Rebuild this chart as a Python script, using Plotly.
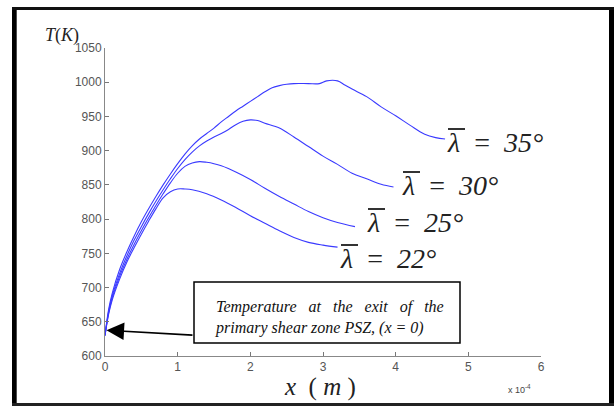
import plotly.graph_objects as go

# ---- data (x in units of 1e-4 m, T in K) ----
x22 = [0, 0.05, 0.1, 0.2, 0.3, 0.4, 0.5, 0.6, 0.7, 0.8, 0.9, 1.0, 1.1, 1.2, 1.4, 1.6, 1.8, 2.0, 2.2, 2.4, 2.6, 2.8, 3.0, 3.2]
t22 = [630, 661, 682, 712, 737, 758, 778, 797, 815, 831, 840, 844, 844, 843, 837, 828, 817, 805, 794, 783, 773, 766, 762, 759]

x25 = [0, 0.05, 0.1, 0.2, 0.3, 0.4, 0.5, 0.6, 0.7, 0.8, 0.9, 1.0, 1.1, 1.2, 1.3, 1.4, 1.5, 1.6, 1.8, 2.0, 2.2, 2.4, 2.6, 2.8, 3.0, 3.2, 3.44]
t25 = [630, 663, 685, 716, 741, 763, 783, 802, 820, 837, 853, 867, 877, 882, 884, 883, 881, 878, 869, 858, 845, 833, 822, 811, 802, 795, 789]

x30 = [0, 0.05, 0.1, 0.2, 0.3, 0.4, 0.5, 0.6, 0.7, 0.8, 0.9, 1.0, 1.1, 1.2, 1.3, 1.4, 1.5, 1.6, 1.7, 1.8, 1.9, 2.0, 2.1, 2.2, 2.4, 2.6, 2.8, 3.0, 3.2, 3.4, 3.6, 3.8, 3.97]
t30 = [630, 665, 688, 720, 746, 769, 789, 808, 826, 843, 859, 874, 887, 898, 907, 914, 920, 925, 931, 938, 943, 945, 944, 940, 933, 920, 906, 892, 880, 867, 859, 851, 847]

x35 = [0, 0.05, 0.1, 0.2, 0.3, 0.4, 0.5, 0.6, 0.7, 0.8, 0.9, 1.0, 1.1, 1.2, 1.3, 1.4, 1.5, 1.6, 1.7, 1.8, 1.9, 2.0, 2.1, 2.2, 2.3, 2.4, 2.5, 2.6, 2.8, 2.95, 3.05, 3.2, 3.3, 3.4, 3.6, 3.8, 4.0, 4.2, 4.4, 4.55, 4.68]
t35 = [630, 668, 692, 726, 752, 775, 796, 815, 833, 850, 866, 881, 895, 907, 917, 925, 933, 942, 950, 958, 965, 972, 979, 986, 992, 995, 997, 998, 998, 998, 1002, 1002, 996, 990, 979, 964, 951, 937, 924, 919, 917]

series = [
    (x22, t22, "22"),
    (x25, t25, "25"),
    (x30, t30, "30"),
    (x35, t35, "35"),
]

# label left edge / vertical centre, in picture pixels
label_px = {"35": (445, 142), "30": (400, 185), "25": (365, 222), "22": (338, 258)}

xticks = [0, 1, 2, 3, 4, 5, 6]
yticks = [600, 650, 700, 750, 800, 850, 900, 950, 1000, 1050]

W, H = 614, 406
L, R, T, B = 105, 73, 48, 50
PW, PH = W - L - R, H - T - B

def px(X):
    return (X - L) / PW

def py(Y):
    return (H - B - Y) / PH

fig = go.Figure()
for xs, ts, name in series:
    fig.add_trace(go.Scatter(x=xs, y=ts, mode="lines", line=dict(color="#3a3aff", width=1.1),
                             line_shape="spline", showlegend=False, hoverinfo="skip"))

serif = "Liberation Serif, Times New Roman, serif"
ann = []
shapes = []
for xs, ts, name in series:
    lx, ly = label_px[name]
    ann.append(dict(x=px(lx), y=py(ly), xref="paper", yref="paper", xanchor="left", yanchor="middle",
                    text="<i>\u03bb</i>  =  <i>%s\u00b0</i>" % name, showarrow=False,
                    font=dict(family=serif, size=28, color="#222")))
    # bar over lambda
    shapes.append(dict(type="line", xref="paper", yref="paper", x0=px(lx + 3), x1=px(lx + 20),
                       y0=py(ly - 13), y1=py(ly - 13), line=dict(color="#333", width=2)))

# annotation box text
ann.append(dict(x=px(213), y=py(317), xref="paper", yref="paper",
                xanchor="left", yanchor="middle", align="left", showarrow=False,
                text="<i>Temperature   at   the   exit   of   the<br>primary shear zone PSZ, (x = 0)</i>",
                font=dict(family=serif, size=16, color="#111")))
# arrow
ann.append(dict(x=0.02, y=1050 - (330 - 48) / 0.684, xref="x", yref="y",
                ax=(194 - 105) / 72.7, ay=1050 - (335 - 48) / 0.684, axref="x", ayref="y",
                text="", showarrow=True, arrowhead=2, arrowsize=2.2, arrowwidth=1.6, arrowcolor="#000"))

# axis titles
ann.append(dict(x=px(62), y=py(35), xref="paper", yref="paper", xanchor="center", yanchor="middle",
                text="<i>T</i>(<i>K</i>)", showarrow=False, font=dict(family=serif, size=18, color="#222")))
ann.append(dict(x=px(320), y=py(387), xref="paper", yref="paper", xanchor="center", yanchor="middle",
                text="<i>x</i>  ( <i>m</i> )", showarrow=False, font=dict(family=serif, size=25, color="#222")))
ann.append(dict(x=px(506), y=py(389), xref="paper", yref="paper", xanchor="left", yanchor="middle",
                text="x 10<sup>-4</sup>", showarrow=False,
                font=dict(family="Liberation Sans, Arial, sans-serif", size=9, color="#444")))

shapes += [
    # annotation box
    dict(type="rect", xref="paper", yref="paper", x0=px(194), x1=px(460), y0=py(343), y1=py(282),
         line=dict(color="#000", width=1.5), fillcolor="rgba(0,0,0,0)"),
    # outer frame
    dict(type="rect", xref="paper", yref="paper", x0=px(12), x1=px(16.7), y0=py(406), y1=py(7),
         line=dict(width=0), fillcolor="#000"),
    dict(type="rect", xref="paper", yref="paper", x0=px(609), x1=px(614), y0=py(406), y1=py(7),
         line=dict(width=0), fillcolor="#000"),
    dict(type="rect", xref="paper", yref="paper", x0=px(12), x1=px(614), y0=py(10), y1=py(7),
         line=dict(width=0), fillcolor="#111"),
    dict(type="rect", xref="paper", yref="paper", x0=px(12), x1=px(614), y0=py(406), y1=py(403),
         line=dict(width=0), fillcolor="#222"),
]

axis_common = dict(showgrid=False, zeroline=False, showline=True, linecolor="#888", linewidth=1,
                   ticks="inside", ticklen=4, tickcolor="#777", tickwidth=1,
                   tickfont=dict(family="Liberation Sans, Arial, sans-serif", size=12, color="#555"))

fig.update_layout(
    width=W, height=H, margin=dict(l=L, r=R, t=T, b=B, pad=0),
    paper_bgcolor="white", plot_bgcolor="white",
    xaxis=dict(range=[0, 6], tickvals=xticks, ticktext=[str(v) for v in xticks], **axis_common),
    yaxis=dict(range=[600, 1050], tickvals=yticks, ticktext=[str(v) for v in yticks], **axis_common),
    annotations=ann, shapes=shapes,
)

fig.write_html("out.html", config={"displayModeBar": False},
               post_script="document.body.style.margin='0';")
